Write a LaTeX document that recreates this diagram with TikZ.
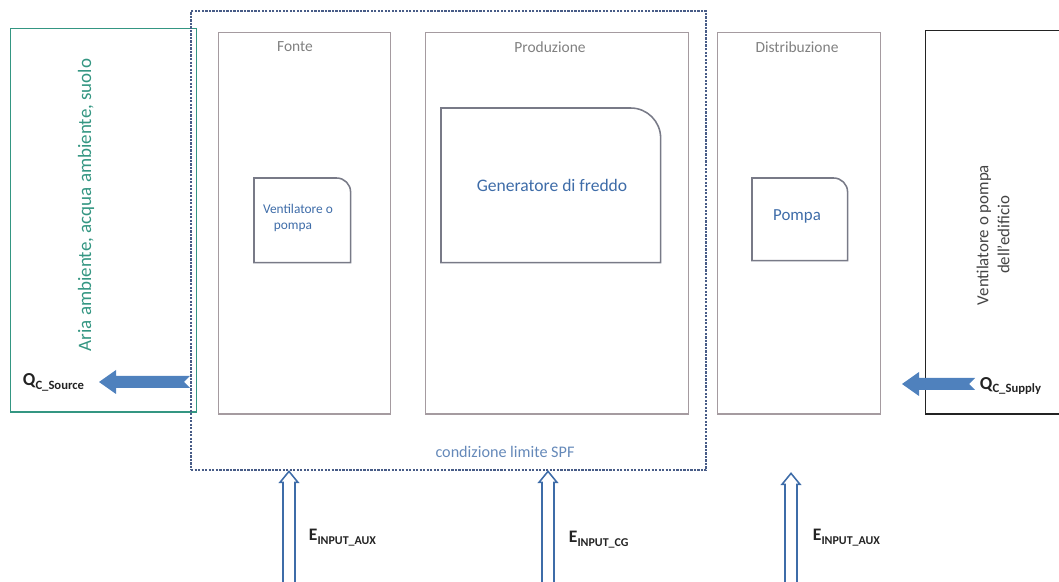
\documentclass[tikz,border=0pt]{standalone}
\usepackage{fontspec}
\setmainfont{Carlito}
\usepackage{tikz}
\usetikzlibrary{positioning, calc}
\definecolor{colteal}{RGB}{52,150,130}
\definecolor{colpanel}{RGB}{165,155,160}
\definecolor{colunit}{RGB}{120,122,135}
\definecolor{coltext}{RGB}{62,108,168}
\definecolor{coltitle}{RGB}{128,128,128}
\definecolor{colspf}{RGB}{72,92,135}
\definecolor{colflow}{RGB}{79,129,189}
\definecolor{coldark}{RGB}{35,35,35}

\begin{document}
\begin{tikzpicture}[
  x=0.025cm, y=-0.025cm,
  panel/.style={rectangle, draw=colpanel, line width=1pt, anchor=north west,
                inner sep=0pt},
  unitbox/.style={rectangle, anchor=north west, inner sep=0pt},
  unitline/.style={draw=colunit, line width=1.1pt},
  title/.style={font=\fontsize{11}{13}\selectfont, text=coltitle},
  utext/.style={font=\fontsize{12.5}{15}\selectfont, text=coltext},
  qlabel/.style={font=\bfseries\fontsize{13}{15}\selectfont, text=coldark},
  elabel/.style={font=\bfseries\fontsize{12.5}{15}\selectfont, text=coldark,
                 anchor=west},
  pics/qflow/.style={code={
    \fill[colflow] (0,0) -- (17,-12) -- (17,-6) -- (#1,-6) -- ($(#1,0)+(-6,0)$)
      -- (#1,6) -- (17,6) -- (17,12) -- cycle;}},
  pics/einput/.style={code={
    \draw[coltext, line width=1.1pt, fill=white, line join=miter]
      (0,0) -- (9,11) -- (6,11) -- (6,#1) -- (-6,#1) -- (-6,11) -- (-9,11) -- cycle;}}
]
\useasboundingbox (0,0) rectangle (1059,582);

% environment and building
\node[panel, draw=colteal, minimum width=4.65cm, minimum height=9.575cm]
    (env) at (10,28) {};
\node[rotate=90, text=colteal, font=\fontsize{13.5}{16}\selectfont]
    (envtxt) at (86,205) {Aria ambiente, acqua ambiente, suolo};
\node[panel, draw=coldark, minimum width=4cm, minimum height=9.575cm]
    (bldg) at (925,30) {};
\node[rotate=90, align=center, text=coldark!85, font=\fontsize{12}{15}\selectfont]
    (bldgtxt) at (993,235) {Ventilatore o pompa\\dell'edificio};

% SPF boundary
\node[panel, draw=colspf, dash pattern=on 1.6pt off 0.9pt, line width=1.6pt,
      minimum width=12.875cm, minimum height=11.475cm] (spf) at (190,10) {};
\node[font=\fontsize{11.5}{14}\selectfont, text=coltext!80] (spftxt) at (505,452)
    {condizione limite SPF};

% sub-systems
\node[panel, minimum width=4.3cm, minimum height=9.525cm] (fonte) at (218,32) {};
\node[panel, minimum width=6.575cm, minimum height=9.525cm] (prod) at (425,32) {};
\node[panel, minimum width=4.075cm, minimum height=9.525cm] (distr) at (717,32) {};
\node[title] (t1) at (295,47) {Fonte};
\node[title] (t2) at (550,47) {Produzione};
\node[title] (t3) at (797,47) {Distribuzione};

% units
\node[unitbox, minimum width=2.4cm, minimum height=2.1cm] (vent) at (254,178) {};
\node[unitbox, minimum width=5.475cm, minimum height=3.85cm] (gen) at (441,108) {};
\node[unitbox, minimum width=2.375cm, minimum height=2.05cm] (pompa) at (752,178) {};
\foreach \u/\r in {vent/14, gen/30, pompa/14}{
  \draw[unitline] (\u.south west) -- (\u.north west) -- ($(\u.north east)+(-\r,0)$)
    arc[start angle=90, end angle=0, radius=\r*0.025cm] -- (\u.south east) -- cycle;
}
\node[utext, font=\fontsize{9.5}{12}\selectfont, align=left] (venttxt) at (298,218)
    {Ventilatore o\\\hspace*{0.8em}pompa};
\node[utext] (gentxt) at (552,185) {Generatore di freddo};
\node[utext, font=\fontsize{12}{15}\selectfont] (pompatxt) at (797,216) {Pompa};

% heat flows
\coordinate (qs) at (99,382);
\coordinate (qc) at (902,384);
\pic at (qs) {qflow=91};
\pic at (qc) {qflow=73};
\node[qlabel, anchor=west] (qslbl) at (18,382)
    {Q\raisebox{-0.45ex}{\fontsize{9}{10}\selectfont C\_Source}};
\node[qlabel, anchor=west] (qclbl) at (975,386)
    {Q\raisebox{-0.45ex}{\fontsize{9}{10}\selectfont C\_Supply}};

% energy inputs
\pic at (spf.south -| 289,0) {einput=130};
\pic at (spf.south -| 548,0) {einput=130};
\pic at ($(spf.south -| 791,0)+(0,2)$) {einput=130};
\node[elabel] (e1) at (304,538)
    {E\raisebox{-0.5ex}{\fontsize{8.5}{10}\selectfont INPUT\_AUX}};
\node[elabel] (e2) at (564,540)
    {E\raisebox{-0.5ex}{\fontsize{8.5}{10}\selectfont INPUT\_CG}};
\node[elabel] (e3) at (808,538)
    {E\raisebox{-0.5ex}{\fontsize{8.5}{10}\selectfont INPUT\_AUX}};
\end{tikzpicture}
\end{document}
